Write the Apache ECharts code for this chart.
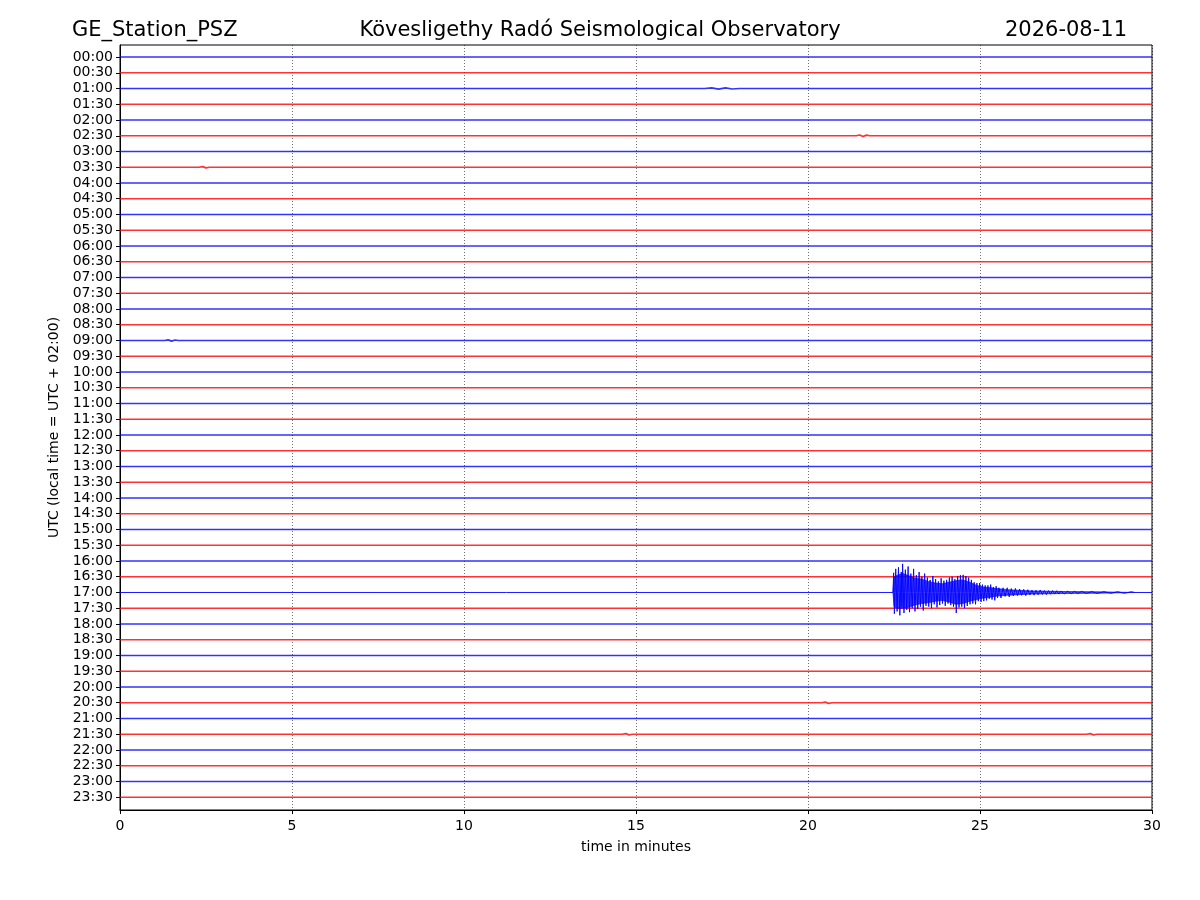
<!DOCTYPE html>
<html>
<head>
<meta charset="utf-8">
<script src="https://cdn.jsdelivr.net/npm/echarts@6/dist/echarts.min.js"></script>
<style>html,body{margin:0;padding:0;background:#fff}#c{width:1200px;height:900px}</style>
</head>
<body>
<div id="c"></div>
<script>
// Row labels (UTC), one trace per half hour
var rowLabels = ['00:00','00:30','01:00','01:30','02:00','02:30','03:00','03:30','04:00','04:30','05:00','05:30','06:00','06:30','07:00','07:30','08:00','08:30','09:00','09:30','10:00','10:30','11:00','11:30','12:00','12:30','13:00','13:30','14:00','14:30','15:00','15:30','16:00','16:30','17:00','17:30','18:00','18:30','19:00','19:30','20:00','20:30','21:00','21:30','22:00','22:30','23:00','23:30'];
var traceColors = ['#0000ff', '#ff0000'];
var xTicks = [0, 5, 10, 15, 20, 25, 30];

// Earthquake on the 17:00 trace: time (minutes) and amplitude (in trace spacings, + = up)
var eventRow = '17:00';
var evtT = [22.47,22.49,22.51,22.55,22.59,22.63,22.67,22.71,22.73,22.75,22.79,22.83,22.87,22.91,22.95,22.99,23.03,23.07,23.11,23.15,23.19,23.23,23.27,23.31,23.35,23.39,23.43,23.47,23.51,23.55,23.59,23.63,23.67,23.71,23.75,23.79,23.83,23.87,23.91,23.95,23.99,24.03,24.07,24.11,24.15,24.19,24.23,24.27,24.31,24.35,24.39,24.43,24.47,24.51,24.55,24.59,24.63,24.67,24.71,24.75,24.79,24.83,24.87,24.91,24.95,24.99,25.03,25.07,25.11,25.15,25.19,25.23,25.27,25.31,25.35,25.39,25.43,25.47,25.51,25.55,25.61,25.67,25.73,25.79,25.85,25.91,25.97,26.03,26.09,26.15,26.21,26.27,26.33,26.39,26.45,26.51,26.57,26.63,26.69,26.75,26.81,26.87,26.93,26.99,27.05,27.11,27.17,27.23,27.29,27.35,27.45,27.55,27.65,27.75,27.85,27.95,28.1,28.25,28.4,28.6,28.8,29.0,29.2,29.4,29.5];
var evtA = [0,1.25,-1.35,1.5,-1.2,1.6,-1.45,1.3,-0.9,1.82,-1.3,1.45,-1.1,1.65,-1.25,1.2,-1.0,1.5,-1.2,1.1,-1.05,1.3,-0.9,1.0,-1.15,1.2,-0.85,0.95,-0.9,0.8,-1.0,1.05,-0.75,0.85,-0.95,0.7,-0.8,0.9,-0.7,0.75,-0.85,0.8,-0.7,0.95,-0.8,1.0,-0.9,0.85,-1.3,1.05,-0.95,1.1,-0.9,1.12,-1.0,1.05,-0.85,0.95,-0.75,0.8,-0.7,0.65,-0.75,0.6,-0.55,0.6,-0.6,0.5,-0.55,0.45,-0.5,0.45,-0.4,0.5,-0.45,0.35,-0.5,0.4,-0.35,0.3,-0.35,0.3,-0.25,0.3,-0.28,0.25,-0.22,0.26,-0.2,0.22,-0.18,0.2,-0.2,0.18,-0.16,0.15,-0.17,0.14,-0.15,0.16,-0.13,0.12,-0.14,0.12,-0.11,0.12,-0.1,0.11,-0.1,0.09,-0.09,0.08,-0.08,0.07,-0.07,0.07,-0.06,0.06,-0.06,0.05,-0.05,0.05,-0.05,0.05,0];

// Dense core of the event waveform (upper / lower envelope, trace spacings)
var envT  = [22.47,22.5,22.6,22.75,22.9,23.1,23.3,23.5,23.7,23.9,24.1,24.3,24.5,24.7,24.9,25.1,25.3,25.5,25.8,26.1,26.5,27.0,27.5,28.5,29.5];
var envUp = [0,1.0,1.1,1.2,1.1,0.9,0.85,0.7,0.6,0.55,0.65,0.75,0.8,0.65,0.45,0.35,0.3,0.25,0.18,0.14,0.1,0.08,0.06,0.04,0];
var envDn = [0,-0.9,-1.0,-1.0,-0.95,-0.8,-0.7,-0.65,-0.55,-0.5,-0.6,-0.75,-0.7,-0.55,-0.45,-0.35,-0.3,-0.22,-0.18,-0.14,-0.1,-0.08,-0.06,-0.04,0];

// Small noise bursts seen on quiet traces: row, times, amplitudes
var blipRows = ['01:00','02:30','03:30','09:00','20:30','21:30','21:30'];
var blipT = [[17.0,17.2,17.4,17.6,17.8,18.0],[21.4,21.5,21.6,21.7,21.8],[2.3,2.4,2.5,2.6],[1.3,1.4,1.5,1.6,1.7],[20.4,20.5,20.6,20.7],[14.6,14.7,14.8,14.9],[28.1,28.2,28.3,28.4]];
var blipA = [[0,0.04,-0.04,0.04,-0.03,0],[0,0.05,-0.05,0.04,0],[0,0.04,-0.04,0],[0,0.04,-0.04,0.03,0],[0,0.04,-0.04,0],[0,0.04,-0.04,0],[0,0.04,-0.04,0]];

var FONT = 'DejaVu Sans';
var series = [];
var eventIdx = rowLabels.indexOf(eventRow);
rowLabels.forEach(function (lab, i) {
  var pts = [];
  if (lab === eventRow) {
    pts.push([0, i]);
    for (var k = 0; k < evtT.length; k++) pts.push([evtT[k], i - evtA[k]]);
    pts.push([30, i]);
  } else {
    pts.push([0, i]);
    var segs = [];
    blipRows.forEach(function (r, b) { if (r === lab) segs.push(b); });
    segs.sort(function (a, b) { return blipT[a][0] - blipT[b][0]; });
    segs.forEach(function (b) {
      for (var k = 0; k < blipT[b].length; k++) pts.push([blipT[b][k], i - blipA[b][k]]);
    });
    pts.push([30, i]);
  }
  series.push({
    type: 'line', data: pts, symbol: 'none', silent: true,
    lineStyle: { color: traceColors[i % 2], width: lab === eventRow ? 0.9 : 1.7, opacity: lab === eventRow ? 1 : 0.8 },
    z: lab === eventRow ? 5 : 2
  });
});
// envelope core fill for the event
[envUp, envDn].forEach(function (env) {
  series.push({
    type: 'line', symbol: 'none', silent: true, z: 4,
    data: envT.map(function (t, k) { return [t, eventIdx - env[k]]; }),
    lineStyle: { color: '#0000ff', width: 0.8, opacity: 0.8 },
    areaStyle: { color: '#0000ff', opacity: 0.75, origin: eventIdx }
  });
});

var tickIdx = rowLabels.map(function (_, i) { return i; });

var chart = echarts.init(document.getElementById('c'), null, { renderer: 'canvas' });
chart.setOption({
  animation: false,
  backgroundColor: '#fff',
  textStyle: { fontFamily: FONT },
  title: [
    { text: 'GE_Station_PSZ', left: 67, top: 15, textStyle: { fontFamily: FONT, fontSize: 21, fontWeight: 'normal', color: '#000' } },
    { text: 'Kövesligethy Radó Seismological Observatory', left: 'center', top: 15, textStyle: { fontFamily: FONT, fontSize: 21, fontWeight: 'normal', color: '#000' } },
    { text: '2026-08-11', right: 68, top: 15, textStyle: { fontFamily: FONT, fontSize: 21, fontWeight: 'normal', color: '#000' } }
  ],
  grid: { left: 120, right: 48, top: 45, bottom: 90, show: true, borderColor: '#000', borderWidth: 1, backgroundColor: 'transparent' },
  xAxis: {
    type: 'value', min: 0, max: 30, interval: 5,
    name: 'time in minutes', nameLocation: 'middle', nameGap: 30,
    nameTextStyle: { fontFamily: FONT, fontSize: 14, color: '#000' },
    axisLine: { show: true, onZero: false, lineStyle: { color: '#000', width: 1 } },
    axisTick: { show: true, inside: false, length: 4, lineStyle: { color: '#000' } },
    axisLabel: { fontFamily: FONT, fontSize: 14, color: '#000', margin: 9,
      formatter: function (v) { return xTicks.indexOf(v) >= 0 ? String(v) : ''; } },
    splitLine: { show: true, lineStyle: { color: '#000', type: [1, 2], width: 0.7, opacity: 0.8 } }
  },
  yAxis: {
    type: 'value', inverse: true, min: -0.762, max: 47.81,
    name: 'UTC (local time = UTC + 02:00)', nameLocation: 'middle', nameGap: 56, nameRotate: 90,
    nameTextStyle: { fontFamily: FONT, fontSize: 14, color: '#000' },
    axisLine: { show: true, onZero: false, lineStyle: { color: '#000', width: 1 } },
    axisTick: { show: true, inside: false, length: 4, customValues: tickIdx, lineStyle: { color: '#000' } },
    axisLabel: { fontFamily: FONT, fontSize: 14, color: '#000', margin: 7, customValues: tickIdx,
      formatter: function (v) { var i = Math.round(v); return rowLabels[i] || ''; } },
    splitLine: { show: false }
  },
  series: series
});
</script>
</body>
</html>
